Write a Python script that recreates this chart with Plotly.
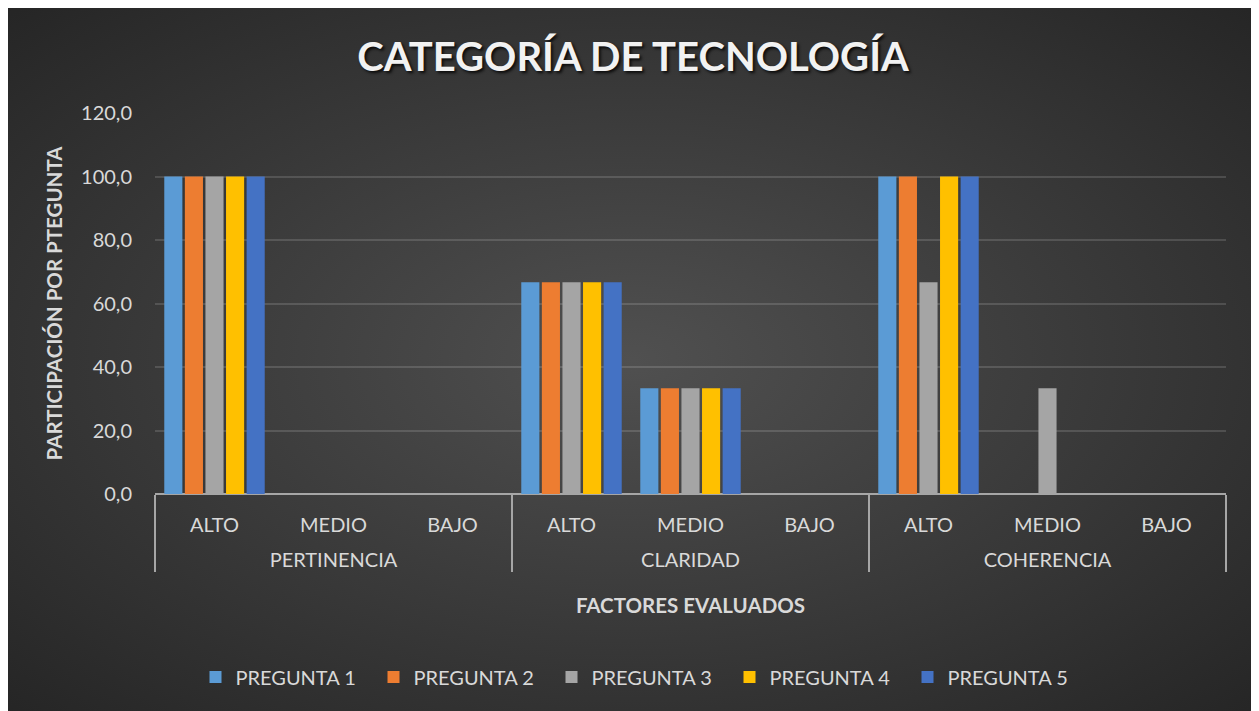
import base64
import plotly.graph_objects as go

# datos
factores = ['PERTINENCIA', 'PERTINENCIA', 'PERTINENCIA',
            'CLARIDAD', 'CLARIDAD', 'CLARIDAD',
            'COHERENCIA', 'COHERENCIA', 'COHERENCIA']
niveles = ['ALTO', 'MEDIO', 'BAJO'] * 3

pregunta1 = [100.0, 0, 0, 66.7, 33.3, 0, 100.0, 0, 0]
pregunta2 = [100.0, 0, 0, 66.7, 33.3, 0, 100.0, 0, 0]
pregunta3 = [100.0, 0, 0, 66.7, 33.3, 0, 66.7, 33.3, 0]
pregunta4 = [100.0, 0, 0, 66.7, 33.3, 0, 100.0, 0, 0]
pregunta5 = [100.0, 0, 0, 66.7, 33.3, 0, 100.0, 0, 0]

series = ['PREGUNTA 1', 'PREGUNTA 2', 'PREGUNTA 3', 'PREGUNTA 4', 'PREGUNTA 5']
valores = [pregunta1, pregunta2, pregunta3, pregunta4, pregunta5]
colores = ['#5b9bd5', '#ed7d31', '#a5a5a5', '#ffc000', '#4472c4']

# la pagina deja 8px de margen, la figura ocupa el resto
W, H = 1250, 703
L, R, T, B = 147, 32, 105, 217

# salto de linea delante del grupo para bajar la segunda fila
grupos = ['<br>' + f for f in factores]

fig = go.Figure()
for nombre, vals, col in zip(series, valores, colores):
    fig.add_trace(go.Bar(x=[grupos, niveles], y=vals, name=nombre,
                         marker=dict(color=col, line=dict(width=0))))

# fondo oscuro con degradado radial (estilo excel)
svg = ('<svg xmlns="http://www.w3.org/2000/svg" width="1250" height="703">'
       '<defs><radialGradient id="g" cx="50%" cy="50%" r="75%">'
       '<stop offset="0%" stop-color="#505050"/>'
       '<stop offset="100%" stop-color="#232323"/>'
       '</radialGradient></defs>'
       '<rect width="1250" height="703" fill="url(#g)"/></svg>')
src = 'data:image/svg+xml;base64,' + base64.b64encode(svg.encode()).decode()

pw = W - L - R
ph = H - T - B
fig.add_layout_image(dict(source=src, xref='paper', yref='paper',
                          x=-L / pw, y=1 + T / ph, sizex=W / pw, sizey=H / ph,
                          xanchor='left', yanchor='top', sizing='stretch',
                          layer='below'))

txt = '#d9d9d9'
fig.update_layout(
    width=W, height=H,
    margin=dict(l=L, r=R, t=T, b=B, autoexpand=False),
    paper_bgcolor='#2b2b2b',
    plot_bgcolor='rgba(0,0,0,0)',
    font=dict(family='Lato', size=20, color=txt),
    separators=',.',
    barmode='group',
    bargap=0.135,
    bargroupgap=0.12,
    title=dict(text='CATEGORÍA DE TECNOLOGÍA', x=0.5, xref='container',
               xanchor='center', y=1 - 49 / H, yanchor='middle',
               font=dict(family='Lato', size=40, color='#f2f2f2', weight='bold',
                         shadow='2px 2px 3px rgba(0,0,0,0.8)')),
    legend=dict(orientation='h', xref='container', yref='container',
                x=0.506, xanchor='center', y=(H - 669) / H, yanchor='middle',
                font=dict(size=20, color=txt),
                entrywidth=133, entrywidthmode='pixels', bgcolor='rgba(0,0,0,0)'),
    xaxis=dict(type='multicategory', showgrid=False, showline=False,
               automargin=False, ticklabelstandoff=17,
               tickfont=dict(size=20, color=txt),
               showdividers=True, dividercolor='#a6a6a6', dividerwidth=2,
               title=dict(text='FACTORES EVALUADOS', standoff=28,
                          font=dict(size=20.5, color=txt, weight='bold'))),
    yaxis=dict(range=[0, 120], dtick=20, tickformat='.1f', automargin=False,
               gridcolor='rgba(255,255,255,0.14)', gridwidth=1.5,
               zeroline=True, zerolinecolor='#a6a6a6', zerolinewidth=2,
               showline=False, ticklabelstandoff=22,
               tickfont=dict(size=20, color=txt),
               title=dict(text='PARTICIPACIÓN POR PTEGUNTA', standoff=12,
                          font=dict(size=20.5, color=txt, weight='bold'))),
)

fig.write_html('out.html')
